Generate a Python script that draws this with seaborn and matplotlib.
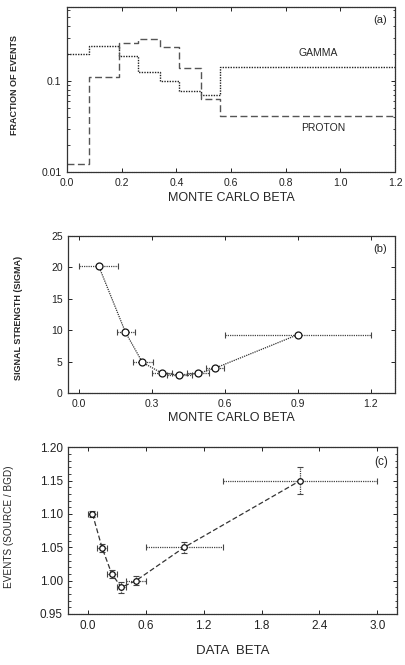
import numpy as np
import pandas as pd
import matplotlib
matplotlib.use("Agg")
import matplotlib.pyplot as plt
import matplotlib.ticker as mticker
import seaborn as sns

# ---------------- data ----------------
# panel (a): histogram of Monte Carlo beta
bin_edges = [0.0, 0.08, 0.19, 0.26, 0.34, 0.41, 0.49, 0.56, 1.2]
gamma_frac = [0.198, 0.244, 0.188, 0.125, 0.100, 0.077, 0.070, 0.141]
proton_frac = [0.0122, 0.111, 0.259, 0.293, 0.237, 0.138, 0.064, 0.041]

# panel (b): signal strength vs Monte Carlo beta
mc_beta = [0.08, 0.19, 0.26, 0.34, 0.41, 0.49, 0.56, 0.90]
mc_beta_err_lo = [0.08, 0.035, 0.04, 0.041, 0.05, 0.045, 0.04, 0.30]
mc_beta_err_hi = [0.08, 0.04, 0.045, 0.041, 0.053, 0.044, 0.037, 0.30]
signal_sigma = [20.2, 9.7, 4.9, 3.2, 2.9, 3.15, 4.0, 9.3]

# panel (c): events source/background vs data beta
data_beta = [0.05, 0.15, 0.25, 0.35, 0.50, 1.00, 2.20]
data_beta_err = [0.05, 0.05, 0.05, 0.05, 0.10, 0.40, 0.80]
ratio = [1.100, 1.049, 1.010, 0.990, 1.000, 1.050, 1.150]
ratio_err = [0.005, 0.006, 0.006, 0.008, 0.007, 0.008, 0.020]

# ---------------- style ----------------
sns.set_theme(style="ticks")
plt.rcParams['font.family'] = ['Liberation Sans', 'DejaVu Sans']
plt.rcParams['xtick.direction'] = 'in'
plt.rcParams['ytick.direction'] = 'in'

DPI = 100
fig = plt.figure(figsize=(4.05, 6.65), dpi=DPI)
fig.patch.set_facecolor('white')

ax_a = fig.add_axes([0.1654, 0.7414, 0.81, 0.248])
ax_b = fig.add_axes([0.1687, 0.4086, 0.8067, 0.237])
ax_c = fig.add_axes([0.1687, 0.0767, 0.811, 0.2507])


def style_axes(ax, labelsize=7.5):
    for side in ['top', 'right', 'bottom', 'left']:
        sp = ax.spines[side]
        sp.set_visible(True)
        sp.set_color('#333333')
        sp.set_linewidth(0.9)
        if side != 'left':
            sp.set_linestyle((0, (1, 0.8)))
    ax.tick_params(which='both', direction='in', top=True, right=True,
                   labelsize=labelsize, colors='#222222', pad=4)
    ax.tick_params(which='major', length=3, width=0.7)
    ax.tick_params(which='minor', length=1.8, width=0.6)
    ax.set_facecolor('white')


# ---------------- panel (a) ----------------
hist_df = pd.DataFrame({
    'edge': bin_edges,
    'gamma': gamma_frac + [gamma_frac[-1]],
    'proton': proton_frac + [proton_frac[-1]],
})
sns.lineplot(data=hist_df, x='edge', y='gamma', ax=ax_a, estimator=None,
             drawstyle='steps-post', color='#222222', linewidth=1.0,
             linestyle=(0, (1, 0.9)))
sns.lineplot(data=hist_df, x='edge', y='proton', ax=ax_a, estimator=None,
             drawstyle='steps-post', color='#555555', linewidth=1.0,
             linestyle=(0, (5, 2.5)))
ax_a.set_yscale('log')
ax_a.set_xlim(0, 1.2)
ax_a.set_ylim(0.01, 0.65)
ax_a.set_xticks(np.arange(0, 1.21, 0.2))
ax_a.xaxis.set_major_formatter(mticker.FormatStrFormatter('%.1f'))
ax_a.yaxis.set_major_locator(mticker.FixedLocator([0.01, 0.1]))
ax_a.yaxis.set_major_formatter(mticker.FixedFormatter(['0.01', '0.1']))
ax_a.yaxis.set_minor_locator(mticker.LogLocator(base=10, subs=np.arange(2, 10)))
ax_a.yaxis.set_minor_formatter(mticker.NullFormatter())
style_axes(ax_a, 7.5)
ax_a.set_xlabel('MONTE CARLO BETA', fontsize=9, labelpad=3)
ax_a.set_ylabel('FRACTION OF EVENTS', fontsize=6.5, fontweight='bold')
ax_a.yaxis.set_label_coords(-0.145, 0.527)
ax_a.text(0.975, 0.95, '(a)', transform=ax_a.transAxes, ha='right',
          va='top', fontsize=8)
ax_a.text(0.918, 0.203, 'GAMMA', ha='center', va='center', fontsize=7.5)
ax_a.text(0.937, 0.0306, 'PROTON', ha='center', va='center', fontsize=7.5)

# ---------------- panel (b) ----------------
eb = ax_b.errorbar(mc_beta, signal_sigma,
                   xerr=[mc_beta_err_lo, mc_beta_err_hi], fmt='none',
                   ecolor='#444444', elinewidth=0.9, capsize=2,
                   capthick=0.8, zorder=2)
for coll in eb[2]:
    coll.set_linestyle((0, (1, 0.8)))
mc_df = pd.DataFrame({'beta': mc_beta, 'sigma': signal_sigma})
sns.lineplot(data=mc_df, x='beta', y='sigma', ax=ax_b, estimator=None,
             sort=False, color='#333333', linewidth=0.9,
             linestyle=(0, (1, 0.8)), marker='o', markersize=5,
             markerfacecolor='white', markeredgecolor='#111111',
             markeredgewidth=0.9, zorder=3)
ax_b.set_xlim(-0.045, 1.30)
ax_b.set_ylim(0, 25)
ax_b.set_xticks(np.arange(0, 1.21, 0.3))
ax_b.xaxis.set_major_formatter(mticker.FormatStrFormatter('%.1f'))
ax_b.set_yticks(np.arange(0, 26, 5))
style_axes(ax_b, 7.5)
ax_b.set_xlabel('MONTE CARLO BETA', fontsize=9, labelpad=2)
ax_b.set_ylabel('SIGNAL STRENGTH (SIGMA)', fontsize=6.5, fontweight='bold')
ax_b.yaxis.set_label_coords(-0.139, 0.478)
ax_b.text(0.975, 0.95, '(b)', transform=ax_b.transAxes, ha='right',
          va='top', fontsize=8)

# ---------------- panel (c) ----------------
eb2 = ax_c.errorbar(data_beta, ratio, xerr=data_beta_err, yerr=ratio_err,
                    fmt='none', ecolor='#444444', elinewidth=0.9, capsize=2,
                    capthick=0.8, zorder=2)
for coll in eb2[2]:
    coll.set_linestyle((0, (1, 0.8)))
data_df = pd.DataFrame({'beta': data_beta, 'ratio': ratio})
sns.lineplot(data=data_df, x='beta', y='ratio', ax=ax_c, estimator=None,
             sort=False, color='#333333', linewidth=0.9,
             linestyle=(0, (4, 2)), marker='o', markersize=4,
             markerfacecolor='white', markeredgecolor='#111111',
             markeredgewidth=0.9, zorder=3)
ax_c.set_xlim(-0.2, 3.2)
ax_c.set_ylim(0.95, 1.20)
ax_c.set_xticks(np.arange(0, 3.01, 0.6))
ax_c.xaxis.set_major_formatter(mticker.FormatStrFormatter('%.1f'))
ax_c.set_yticks(np.arange(0.95, 1.201, 0.05))
ax_c.yaxis.set_major_formatter(mticker.FormatStrFormatter('%.2f'))
ax_c.yaxis.set_minor_locator(mticker.MultipleLocator(0.01))
style_axes(ax_c, 8.5)
ax_c.set_xlabel('DATA  BETA', fontsize=9.5, labelpad=10)
ax_c.set_ylabel('EVENTS (SOURCE / BGD)', fontsize=7.2)
ax_c.yaxis.set_label_coords(-0.165, 0.524)
ax_c.text(0.975, 0.95, '(c)', transform=ax_c.transAxes, ha='right',
          va='top', fontsize=8.5)

fig.savefig('out.png', dpi=DPI, facecolor='white')
